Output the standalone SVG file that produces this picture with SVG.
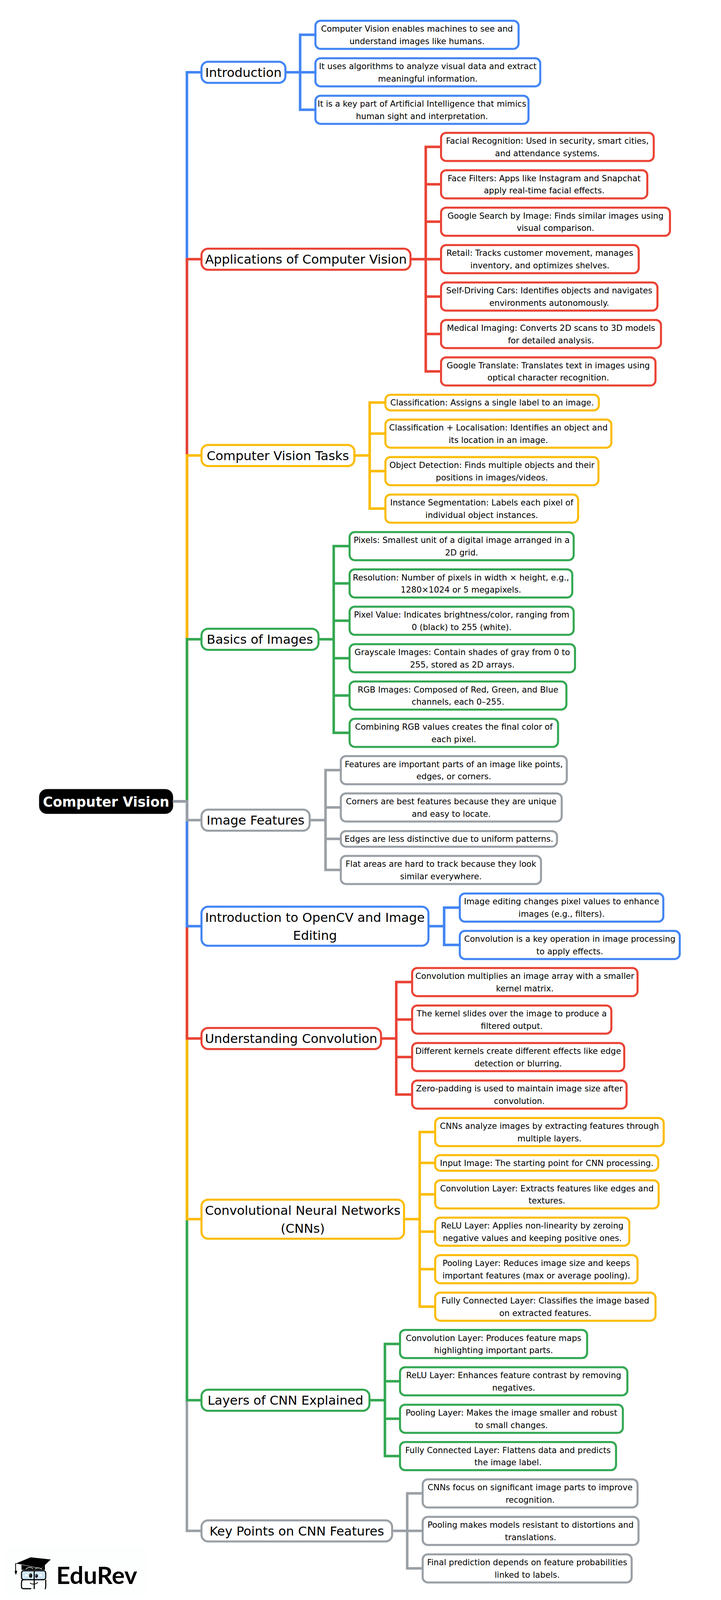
<svg xmlns="http://www.w3.org/2000/svg" width="1845" height="4104" viewBox="0 0 1845 4104">
<style>
text{font-family:"DejaVu Sans","Liberation Sans",sans-serif;fill:#000;text-anchor:middle}
rect{fill:#fff;stroke-width:5.25}
.leaf{rx:13px;ry:13px}
.mid{rx:17px;ry:17px}
.lt{font-size:21.15px}
.mt{font-size:32.3px}
.rt{font-size:34.7px;font-weight:700;fill:#fff}
.conn path{fill:none;stroke-width:6.5;stroke-linejoin:miter}
.b rect{stroke:#4285f4}.r rect{stroke:#ea4335}.y rect{stroke:#fbbc04}.g rect{stroke:#34a853}.k rect{stroke:#9aa0a6}
.conn path.b{stroke:#4285f4}.conn path.r{stroke:#ea4335}.conn path.y{stroke:#fbbc04}.conn path.g{stroke:#34a853}.conn path.k{stroke:#9aa0a6}
</style>
<rect width="1845" height="4104" style="fill:#fff;stroke:none"/>
<g id="nodes">
<g id="root"><rect x="100" y="2020" width="343" height="63.5" rx="20" ry="20" style="fill:#000;stroke:#888;stroke-width:.6"/><text class="rt" x="271.5" y="2065">Computer Vision</text></g>

<g id="intro" class="b"><rect class="mid" x="515.6" y="158" width="214.8" height="54"/><text class="mt" x="623" y="196.7">Introduction</text></g>
<g id="intro-1" class="b"><rect class="leaf" x="807.1" y="53" width="519.9" height="72"/><text class="lt"><tspan x="1067" y="81">Computer Vision enables machines to see and</tspan><tspan x="1067" y="112.5">understand images like humans.</tspan></text></g>
<g id="intro-2" class="b"><rect class="leaf" x="807.1" y="149" width="575.3" height="72"/><text class="lt"><tspan x="1094.7" y="177">It uses algorithms to analyze visual data and extract</tspan><tspan x="1094.7" y="208.5">meaningful information.</tspan></text></g>
<g id="intro-3" class="b"><rect class="leaf" x="807.1" y="245" width="545.3" height="72"/><text class="lt"><tspan x="1079.7" y="273">It is a key part of Artificial Intelligence that mimics</tspan><tspan x="1079.7" y="304.5">human sight and interpretation.</tspan></text></g>

<g id="apps" class="r"><rect class="mid" x="515.6" y="636.5" width="534.8" height="54"/><text class="mt" x="783" y="675.2">Applications of Computer Vision</text></g>
<g id="apps-1" class="r"><rect class="leaf" x="1128.6" y="340" width="544.3" height="72"/><text class="lt"><tspan x="1400.7" y="368">Facial Recognition: Used in security, smart cities,</tspan><tspan x="1400.7" y="399.5">and attendance systems.</tspan></text></g>
<g id="apps-2" class="r"><rect class="leaf" x="1128.6" y="435.8" width="527.8" height="72"/><text class="lt"><tspan x="1392.5" y="463.8">Face Filters: Apps like Instagram and Snapchat</tspan><tspan x="1392.5" y="495.3">apply real-time facial effects.</tspan></text></g>
<g id="apps-3" class="r"><rect class="leaf" x="1128.6" y="531.6" width="585.8" height="72"/><text class="lt"><tspan x="1421.5" y="559.6">Google Search by Image: Finds similar images using</tspan><tspan x="1421.5" y="591.1">visual comparison.</tspan></text></g>
<g id="apps-4" class="r"><rect class="leaf" x="1128.6" y="627.4" width="505.8" height="72"/><text class="lt"><tspan x="1381.5" y="655.4">Retail: Tracks customer movement, manages</tspan><tspan x="1381.5" y="686.9">inventory, and optimizes shelves.</tspan></text></g>
<g id="apps-5" class="r"><rect class="leaf" x="1128.6" y="723.2" width="553.8" height="72"/><text class="lt"><tspan x="1405.5" y="751.2">Self-Driving Cars: Identifies objects and navigates</tspan><tspan x="1405.5" y="782.7">environments autonomously.</tspan></text></g>
<g id="apps-6" class="r"><rect class="leaf" x="1128.6" y="819" width="562.8" height="72"/><text class="lt"><tspan x="1410" y="847">Medical Imaging: Converts 2D scans to 3D models</tspan><tspan x="1410" y="878.5">for detailed analysis.</tspan></text></g>
<g id="apps-7" class="r"><rect class="leaf" x="1128.6" y="914.8" width="548.8" height="72"/><text class="lt"><tspan x="1403" y="942.8">Google Translate: Translates text in images using</tspan><tspan x="1403" y="974.3">optical character recognition.</tspan></text></g>

<g id="tasks" class="y"><rect class="mid" x="515.6" y="1139" width="391.3" height="54"/><text class="mt" x="711" y="1177.7">Computer Vision Tasks</text></g>
<g id="tasks-1" class="y"><rect class="leaf" x="986.2" y="1010.5" width="546.2" height="40"/><text class="lt" x="1259.3" y="1038">Classification: Assigns a single label to an image.</text></g>
<g id="tasks-2" class="y"><rect class="leaf" x="986.2" y="1074" width="578.2" height="72"/><text class="lt"><tspan x="1275.3" y="1102">Classification + Localisation: Identifies an object and</tspan><tspan x="1275.3" y="1133.5">its location in an image.</tspan></text></g>
<g id="tasks-3" class="y"><rect class="leaf" x="986.2" y="1170" width="545.2" height="72"/><text class="lt"><tspan x="1258.8" y="1198">Object Detection: Finds multiple objects and their</tspan><tspan x="1258.8" y="1229.5">positions in images/videos.</tspan></text></g>
<g id="tasks-4" class="y"><rect class="leaf" x="986.2" y="1266" width="493.2" height="72"/><text class="lt"><tspan x="1232.8" y="1294">Instance Segmentation: Labels each pixel of</tspan><tspan x="1232.8" y="1325.5">individual object instances.</tspan></text></g>

<g id="basics" class="g"><rect class="mid" x="515.6" y="1609.5" width="299.4" height="54"/><text class="mt" x="665" y="1648.2">Basics of Images</text></g>
<g id="basics-1" class="g"><rect class="leaf" x="894.6" y="1362" width="573.4" height="72"/><text class="lt"><tspan x="1181.3" y="1390">Pixels: Smallest unit of a digital image arranged in a</tspan><tspan x="1181.3" y="1421.5">2D grid.</tspan></text></g>
<g id="basics-2" class="g"><rect class="leaf" x="894.6" y="1457.5" width="569.8" height="72"/><text class="lt"><tspan x="1179.5" y="1485.5">Resolution: Number of pixels in width × height, e.g.,</tspan><tspan x="1179.5" y="1517">1280×1024 or 5 megapixels.</tspan></text></g>
<g id="basics-3" class="g"><rect class="leaf" x="894.6" y="1553" width="573.4" height="72"/><text class="lt"><tspan x="1181.3" y="1581">Pixel Value: Indicates brightness/color, ranging from</tspan><tspan x="1181.3" y="1612.5">0 (black) to 255 (white).</tspan></text></g>
<g id="basics-4" class="g"><rect class="leaf" x="894.6" y="1649" width="576.8" height="72"/><text class="lt"><tspan x="1183" y="1677">Grayscale Images: Contain shades of gray from 0 to</tspan><tspan x="1183" y="1708.5">255, stored as 2D arrays.</tspan></text></g>
<g id="basics-5" class="g"><rect class="leaf" x="894.6" y="1744.5" width="554.8" height="72"/><text class="lt"><tspan x="1172" y="1772.5">RGB Images: Composed of Red, Green, and Blue</tspan><tspan x="1172" y="1804">channels, each 0–255.</tspan></text></g>
<g id="basics-6" class="g"><rect class="leaf" x="894.6" y="1840" width="533.4" height="72"/><text class="lt"><tspan x="1161.3" y="1868">Combining RGB values creates the final color of</tspan><tspan x="1161.3" y="1899.5">each pixel.</tspan></text></g>

<g id="features" class="k"><rect class="mid" x="515.6" y="2072.5" width="276.8" height="54"/><text class="mt" x="654" y="2111.2">Image Features</text></g>
<g id="features-1" class="k"><rect class="leaf" x="872.1" y="1935.5" width="578.3" height="72"/><text class="lt"><tspan x="1161.2" y="1963.5">Features are important parts of an image like points,</tspan><tspan x="1161.2" y="1995">edges, or corners.</tspan></text></g>
<g id="features-2" class="k"><rect class="leaf" x="872.1" y="2031" width="565.3" height="72"/><text class="lt"><tspan x="1154.7" y="2059">Corners are best features because they are unique</tspan><tspan x="1154.7" y="2090.5">and easy to locate.</tspan></text></g>
<g id="features-3" class="k"><rect class="leaf" x="872.1" y="2127.5" width="553.3" height="40"/><text class="lt" x="1148.7" y="2155">Edges are less distinctive due to uniform patterns.</text></g>
<g id="features-4" class="k"><rect class="leaf" x="872.1" y="2191" width="512.3" height="72"/><text class="lt"><tspan x="1128.2" y="2219">Flat areas are hard to track because they look</tspan><tspan x="1128.2" y="2250.5">similar everywhere.</tspan></text></g>

<g id="opencv" class="b"><rect class="mid" x="515.6" y="2321" width="580.8" height="100"/><text class="mt"><tspan x="806" y="2360">Introduction to OpenCV and Image</tspan><tspan x="806" y="2406">Editing</tspan></text></g>
<g id="opencv-1" class="b"><rect class="leaf" x="1176.6" y="2287.4" width="520.8" height="72"/><text class="lt"><tspan x="1437" y="2315.4">Image editing changes pixel values to enhance</tspan><tspan x="1437" y="2346.9">images (e.g., filters).</tspan></text></g>
<g id="opencv-2" class="b"><rect class="leaf" x="1176.6" y="2383" width="562.8" height="72"/><text class="lt"><tspan x="1458" y="2411">Convolution is a key operation in image processing</tspan><tspan x="1458" y="2442.5">to apply effects.</tspan></text></g>

<g id="convolution" class="r"><rect class="mid" x="515.6" y="2631.5" width="459.4" height="54"/><text class="mt" x="745" y="2670.2">Understanding Convolution</text></g>
<g id="convolution-1" class="r"><rect class="leaf" x="1054.6" y="2478" width="576.8" height="72"/><text class="lt"><tspan x="1343" y="2506">Convolution multiplies an image array with a smaller</tspan><tspan x="1343" y="2537.5">kernel matrix.</tspan></text></g>
<g id="convolution-2" class="r"><rect class="leaf" x="1054.6" y="2574" width="509.8" height="72"/><text class="lt"><tspan x="1309.5" y="2602">The kernel slides over the image to produce a</tspan><tspan x="1309.5" y="2633.5">filtered output.</tspan></text></g>
<g id="convolution-3" class="r"><rect class="leaf" x="1054.6" y="2670" width="542.8" height="72"/><text class="lt"><tspan x="1326" y="2698">Different kernels create different effects like edge</tspan><tspan x="1326" y="2729.5">detection or blurring.</tspan></text></g>
<g id="convolution-4" class="r"><rect class="leaf" x="1054.6" y="2766" width="548.8" height="72"/><text class="lt"><tspan x="1329" y="2794">Zero-padding is used to maintain image size after</tspan><tspan x="1329" y="2825.5">convolution.</tspan></text></g>

<g id="cnns" class="y"><rect class="mid" x="515.6" y="3071" width="518.3" height="100"/><text class="mt"><tspan x="774.7" y="3110">Convolutional Neural Networks</tspan><tspan x="774.7" y="3156">(CNNs)</tspan></text></g>
<g id="cnns-1" class="y"><rect class="leaf" x="1113.6" y="2862" width="584.8" height="72"/><text class="lt"><tspan x="1406" y="2890">CNNs analyze images by extracting features through</tspan><tspan x="1406" y="2921.5">multiple layers.</tspan></text></g>
<g id="cnns-2" class="y"><rect class="leaf" x="1113.6" y="2957" width="570.8" height="40"/><text class="lt" x="1399" y="2984.5">Input Image: The starting point for CNN processing.</text></g>
<g id="cnns-3" class="y"><rect class="leaf" x="1113.6" y="3021.5" width="571.8" height="72"/><text class="lt"><tspan x="1399.5" y="3049.5">Convolution Layer: Extracts features like edges and</tspan><tspan x="1399.5" y="3081">textures.</tspan></text></g>
<g id="cnns-4" class="y"><rect class="leaf" x="1113.6" y="3117" width="496.8" height="72"/><text class="lt"><tspan x="1362" y="3145">ReLU Layer: Applies non-linearity by zeroing</tspan><tspan x="1362" y="3176.5">negative values and keeping positive ones.</tspan></text></g>
<g id="cnns-5" class="y"><rect class="leaf" x="1113.6" y="3213" width="517.8" height="72"/><text class="lt"><tspan x="1372.5" y="3241">Pooling Layer: Reduces image size and keeps</tspan><tspan x="1372.5" y="3272.5">important features (max or average pooling).</tspan></text></g>
<g id="cnns-6" class="y"><rect class="leaf" x="1113.6" y="3309" width="563.8" height="72"/><text class="lt"><tspan x="1395.5" y="3337">Fully Connected Layer: Classifies the image based</tspan><tspan x="1395.5" y="3368.5">on extracted features.</tspan></text></g>

<g id="layers" class="g"><rect class="mid" x="515.6" y="3557.5" width="429.8" height="54"/><text class="mt" x="730.5" y="3596.2">Layers of CNN Explained</text></g>
<g id="layers-1" class="g"><rect class="leaf" x="1023.6" y="3404.6" width="478.8" height="72"/><text class="lt"><tspan x="1263" y="3432.6">Convolution Layer: Produces feature maps</tspan><tspan x="1263" y="3464.1">highlighting important parts.</tspan></text></g>
<g id="layers-2" class="g"><rect class="leaf" x="1023.6" y="3500" width="581.8" height="72"/><text class="lt"><tspan x="1314.5" y="3528">ReLU Layer: Enhances feature contrast by removing</tspan><tspan x="1314.5" y="3559.5">negatives.</tspan></text></g>
<g id="layers-3" class="g"><rect class="leaf" x="1023.6" y="3596" width="570.3" height="72"/><text class="lt"><tspan x="1308.7" y="3624">Pooling Layer: Makes the image smaller and robust</tspan><tspan x="1308.7" y="3655.5">to small changes.</tspan></text></g>
<g id="layers-4" class="g"><rect class="leaf" x="1023.6" y="3691.6" width="552.8" height="72"/><text class="lt"><tspan x="1300" y="3719.6">Fully Connected Layer: Flattens data and predicts</tspan><tspan x="1300" y="3751.1">the image label.</tspan></text></g>

<g id="keypoints" class="k"><rect class="mid" x="515.6" y="3892" width="487.8" height="54"/><text class="mt" x="759.5" y="3930.7">Key Points on CNN Features</text></g>
<g id="keypoints-1" class="k"><rect class="leaf" x="1081.6" y="3787" width="549.8" height="72"/><text class="lt"><tspan x="1356.5" y="3815">CNNs focus on significant image parts to improve</tspan><tspan x="1356.5" y="3846.5">recognition.</tspan></text></g>
<g id="keypoints-2" class="k"><rect class="leaf" x="1081.6" y="3883" width="552.3" height="72"/><text class="lt"><tspan x="1357.7" y="3911">Pooling makes models resistant to distortions and</tspan><tspan x="1357.7" y="3942.5">translations.</tspan></text></g>
<g id="keypoints-3" class="k"><rect class="leaf" x="1081.6" y="3979" width="534.8" height="72"/><text class="lt"><tspan x="1349" y="4007">Final prediction depends on feature probabilities</tspan><tspan x="1349" y="4038.5">linked to labels.</tspan></text></g>
</g>

<g id="connectors" class="conn">
<path class="b" d="M442 2051.6H478.3V185H518"/>
<path class="r" d="M442 2051.6H478.3V663.5H518"/>
<path class="y" d="M442 2051.6H478.3V1166H518"/>
<path class="g" d="M442 2051.6H478.3V1636.5H518"/>
<path class="k" d="M442 2051.6H478.3V3919H518"/>
<path class="g" d="M442 2051.6H478.3V3584.5H518"/>
<path class="y" d="M442 2051.6H478.3V3121H518"/>
<path class="r" d="M442 2051.6H478.3V2658.5H518"/>
<path class="b" d="M442 2051.6H478.3V2371H518"/>
<path class="k" d="M442 2051.6H478.3V2099.5H518"/>

<path class="b" d="M728 185H768V89H810M728 185H768V281H810M728 185H810"/>
<path class="r" d="M1048 663.5H1089.5V376H1131M1048 663.5H1089.5V950.8H1131M1089.5 471.8H1131M1089.5 567.6H1131M1048 663.5H1131M1089.5 759.2H1131M1089.5 855H1131"/>
<path class="y" d="M904 1166H946V1030.5H989M904 1166H946V1302H989M946 1110H989M946 1206H989"/>
<path class="g" d="M813 1636.5H854V1398H897M813 1636.5H854V1876H897M854 1493.5H897M854 1589H897M854 1685H897M854 1780.5H897"/>
<path class="k" d="M790 2099.5H833V1971.5H875M790 2099.5H833V2227H875M833 2067H875M833 2147.5H875"/>
<path class="b" d="M1094 2371H1136.5V2323.4H1179M1094 2371H1136.5V2419H1179"/>
<path class="r" d="M973 2658.5H1014V2514H1057M973 2658.5H1014V2802H1057M1014 2610H1057M1014 2706H1057"/>
<path class="y" d="M1031 3121H1074V2898H1116M1031 3121H1074V3345H1116M1074 2977H1116M1074 3057.5H1116M1074 3153H1116M1074 3249H1116"/>
<path class="g" d="M943 3584.5H985V3440.6H1026M943 3584.5H985V3727.6H1026M985 3536H1026M985 3632H1026"/>
<path class="k" d="M1001 3919H1042V3823H1084M1001 3919H1042V4015H1084M1001 3919H1084"/>
</g>

<g id="logo">
<rect x="10" y="3960" width="368" height="127" style="fill:#fdfefe;stroke:none"/>
<path d="M40 4002.7L78.3 3986.7L130 3992.3L106 4015L55 4005Z" style="fill:#000"/>
<path d="M55 4006L106 4016L115 4006V4019H55Z" style="fill:#000"/>
<path d="M40 4002V4022" style="fill:none;stroke:#000;stroke-width:2"/>
<path d="M37.5 4023L40.5 4032L44 4023L40.5 4019Z" style="fill:#000"/>
<path d="M66 4017Q75 4009 85 4016M90 4016Q98 4011 107 4017" style="fill:none;stroke:#fff;stroke-width:1.5"/>
<rect x="55" y="4021" width="62" height="23" rx="6" ry="6" style="fill:#cfe6f5;stroke:#000;stroke-width:2.8"/>
<path d="M60 4044Q55 4044 55 4052V4062Q55 4067 60 4067H80M117 4044V4060Q117 4066 115 4068M87.5 4020V4068" style="fill:none;stroke:#000;stroke-width:2.8"/>
<ellipse cx="78.5" cy="4033.5" rx="4" ry="5.8" style="fill:#000"/>
<ellipse cx="93.5" cy="4034.5" rx="3.4" ry="4.8" style="fill:#000"/>
<circle cx="77.5" cy="4031.5" r="1.1" style="fill:#fff"/>
<circle cx="92.5" cy="4033" r="1" style="fill:#fff"/>
<path d="M65 4030h6v5h-6zM101 4030h6v5h-6z" style="fill:#fff"/>
<path d="M76.5 4052.5Q87 4059 97 4051" style="fill:none;stroke:#000;stroke-width:1.8"/>
<text x="144" y="4055" style="font-family:'Lato','Liberation Sans',sans-serif;font-weight:700;font-size:62px;text-anchor:start">EduRev</text>
</g>
</svg>
